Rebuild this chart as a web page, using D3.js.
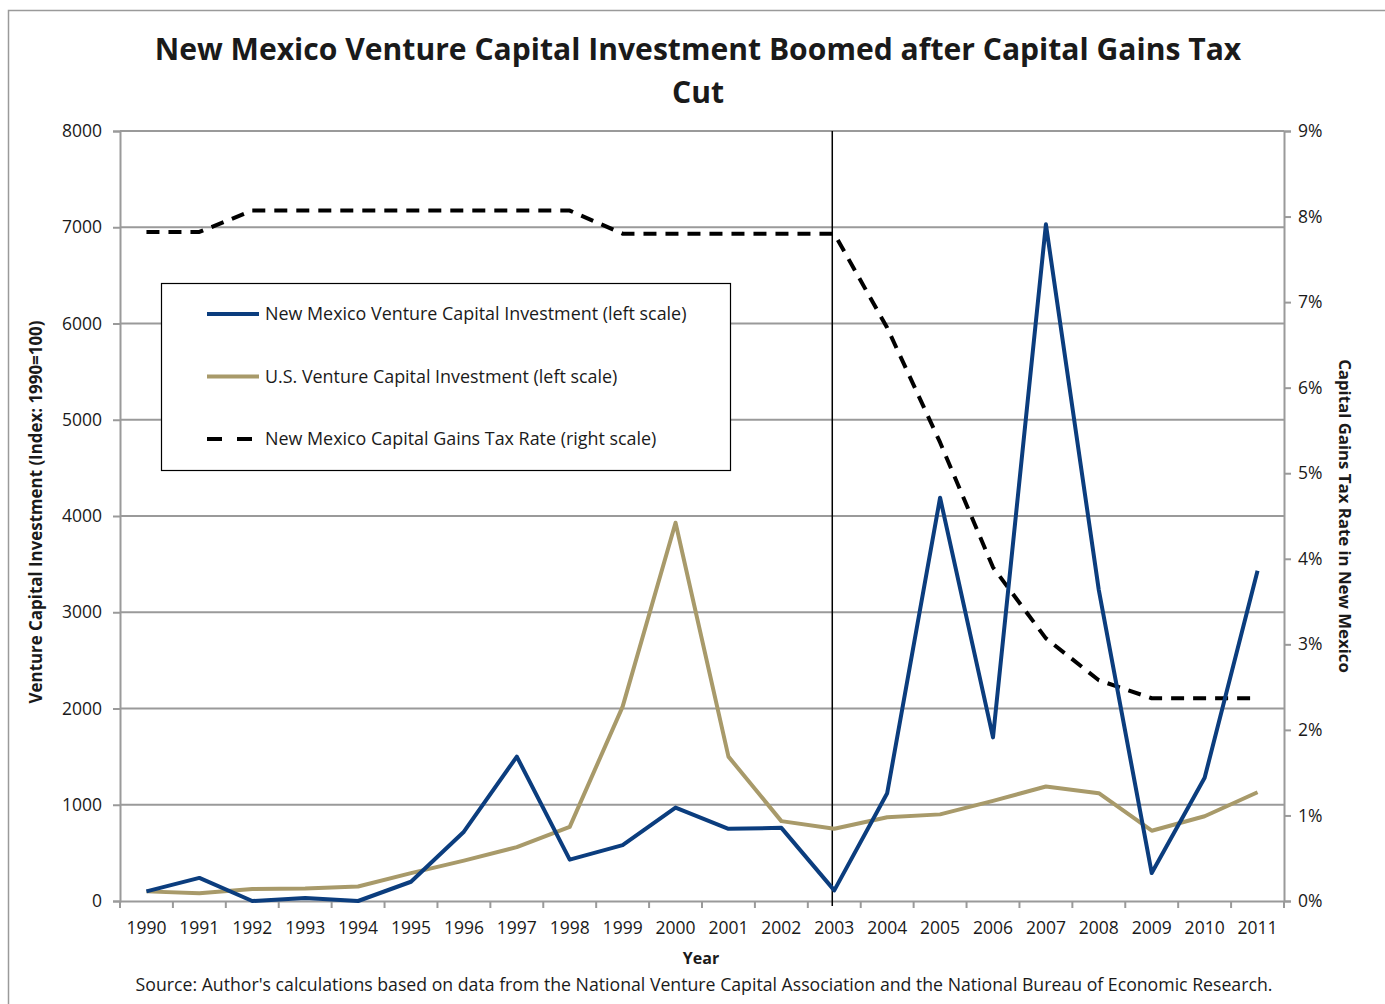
<!DOCTYPE html>
<html><head><meta charset="utf-8">
<script src="https://cdn.jsdelivr.net/npm/d3@7"></script>
<style>
body{margin:0;background:#fff;}
svg text{font-family:"Open Sans",sans-serif;fill:#1a1a1a;}
</style></head>
<body>
<svg id="chart" width="1385" height="1004"></svg>
<script>
const years = [1990,1991,1992,1993,1994,1995,1996,1997,1998,1999,2000,2001,2002,2003,2004,2005,2006,2007,2008,2009,2010,2011];
const nmVC = [100,240,0,30,0,200,720,1500,430,580,970,750,760,110,1120,4190,1700,7030,3230,290,1280,3430];
const usVC = [100,80,125,130,150,290,420,560,770,2020,3930,1500,830,750,870,900,1040,1190,1120,730,880,1130];
const taxRate = [7.82,7.82,8.07,8.07,8.07,8.07,8.07,8.07,8.07,7.8,7.8,7.8,7.8,7.8,6.7,5.36,3.9,3.07,2.58,2.37,2.37,2.37];
const leftTicks = [0,1000,2000,3000,4000,5000,6000,7000,8000];
const rightTicks = [0,1,2,3,4,5,6,7,8,9];
const titleLines = ["New Mexico Venture Capital Investment Boomed after Capital Gains Tax","Cut"];
const legendLabels = ["New Mexico Venture Capital Investment (left scale)","U.S. Venture Capital Investment (left scale)","New Mexico Capital Gains Tax Rate (right scale)"];
const cutYear = 2003;

const svg = d3.select("#chart");
const m={left:120,right:1284,top:131,bottom:901};
const blue="#0b3d7e", tan="#a89a6a", grid="#9a9a9a";

svg.append("rect").attr("x",8.5).attr("y",10.5).attr("width",1400).attr("height",1100)
  .attr("fill","#fff").attr("stroke",grid).attr("stroke-width",1.5);

const x = d3.scaleBand().domain(years).range([m.left,m.right]);
const xc = d => x(d)+x.bandwidth()/2;
const yL = d3.scaleLinear().domain([0,8000]).range([m.bottom,m.top]);
const yR = d3.scaleLinear().domain([0,9]).range([m.bottom,m.top]);

// gridlines
svg.append("g").selectAll("line").data(leftTicks.filter(d=>d>0)).join("line")
  .attr("x1",m.left).attr("x2",m.right).attr("y1",d=>yL(d)).attr("y2",d=>yL(d))
  .attr("stroke",grid).attr("stroke-width",2);

// left axis
const gL = svg.append("g").attr("transform",`translate(${m.left},0)`)
  .call(d3.axisLeft(yL).tickValues(leftTicks).tickFormat(d3.format("d")).tickSize(7).tickPadding(11));
gL.select(".domain").attr("stroke",grid).attr("stroke-width",2);
gL.selectAll(".tick line").attr("stroke",grid).attr("stroke-width",2);
gL.selectAll(".tick text").attr("font-size",17.5).style("font-family","Open Sans").attr("fill","#1a1a1a");

// right axis
const gR = svg.append("g").attr("transform",`translate(${m.right},0)`)
  .call(d3.axisRight(yR).tickValues(rightTicks).tickFormat(d=>d+"%").tickSize(7).tickPadding(7));
gR.select(".domain").attr("stroke",grid).attr("stroke-width",2);
gR.selectAll(".tick line").attr("stroke",grid).attr("stroke-width",2);
gR.selectAll(".tick text").attr("font-size",17.5).style("font-family","Open Sans").attr("fill","#1a1a1a");

// bottom axis
const gB = svg.append("g").attr("transform",`translate(0,${m.bottom})`)
  .call(d3.axisBottom(x).tickSize(0).tickPadding(21));
gB.select(".domain").attr("stroke",grid).attr("stroke-width",2);
gB.selectAll(".tick text").attr("font-size",17.5).style("font-family","Open Sans").attr("fill","#1a1a1a");
const bounds = years.map(d=>x(d)).concat([m.right]);
gB.selectAll("line.sep").data(bounds).join("line").attr("class","sep")
  .attr("x1",d=>d).attr("x2",d=>d).attr("y1",0).attr("y2",7).attr("stroke",grid).attr("stroke-width",2);

// vertical cut line
svg.append("line").attr("x1",xc(cutYear)-2).attr("x2",xc(cutYear)-2).attr("y1",m.top).attr("y2",m.bottom+5)
  .attr("stroke","#000").attr("stroke-width",1.5);

// series
const lineL = arr => d3.line().x((d,i)=>xc(years[i])).y(d=>yL(d))(arr);
const lineR = d3.line().x((d,i)=>xc(years[i])).y(d=>yR(d));
svg.append("path").attr("d",lineR(taxRate)).attr("fill","none").attr("stroke","#000")
  .attr("stroke-width",4).attr("stroke-dasharray","13,9").attr("stroke-linejoin","round");
svg.append("path").attr("d",lineL(usVC)).attr("fill","none").attr("stroke",tan).attr("stroke-width",4).attr("stroke-linejoin","round");
svg.append("path").attr("d",lineL(nmVC)).attr("fill","none").attr("stroke",blue).attr("stroke-width",4).attr("stroke-linejoin","round");

// legend
const lg = svg.append("g");
lg.append("rect").attr("x",161.5).attr("y",283.5).attr("width",569).attr("height",187)
  .attr("fill","#fff").attr("stroke","#000").attr("stroke-width",1.2);
const lstyles=[{c:blue,d:null,x2:259},{c:tan,d:null,x2:259},{c:"#000",d:"15,15",x2:252}];
legendLabels.forEach((t,i)=>{
  const yy=314+i*62.5;
  lg.append("line").attr("x1",207).attr("x2",lstyles[i].x2).attr("y1",yy).attr("y2",yy)
    .attr("stroke",lstyles[i].c).attr("stroke-width",4).attr("stroke-dasharray",lstyles[i].d);
  lg.append("text").attr("x",265).attr("y",yy).attr("dy","0.35em").attr("font-size",17.9).text(t);
});

// title
svg.append("g").selectAll("text").data(titleLines).join("text")
  .attr("x",698).attr("y",(d,i)=>60+i*43).attr("text-anchor","middle")
  .attr("font-size",30.1).attr("font-weight","bold").text(d=>d);

// axis titles
svg.append("text").attr("transform",`translate(42,512) rotate(-90)`).attr("text-anchor","middle")
  .attr("font-size",16.9).attr("font-weight","bold").text("Venture Capital Investment (Index: 1990=100)");
svg.append("text").attr("transform",`translate(1339,516) rotate(90)`).attr("text-anchor","middle")
  .attr("font-size",16.8).attr("font-weight","bold").text("Capital Gains Tax Rate in New Mexico");
svg.append("text").attr("x",701).attr("y",964).attr("text-anchor","middle")
  .attr("font-size",16).attr("font-weight","bold").text("Year");
svg.append("text").attr("x",704).attr("y",991).attr("text-anchor","middle")
  .attr("font-size",17.7).text("Source:  Author's calculations based on data from the National Venture Capital Association and the National Bureau of Economic Research.");
</script>
</body></html>
